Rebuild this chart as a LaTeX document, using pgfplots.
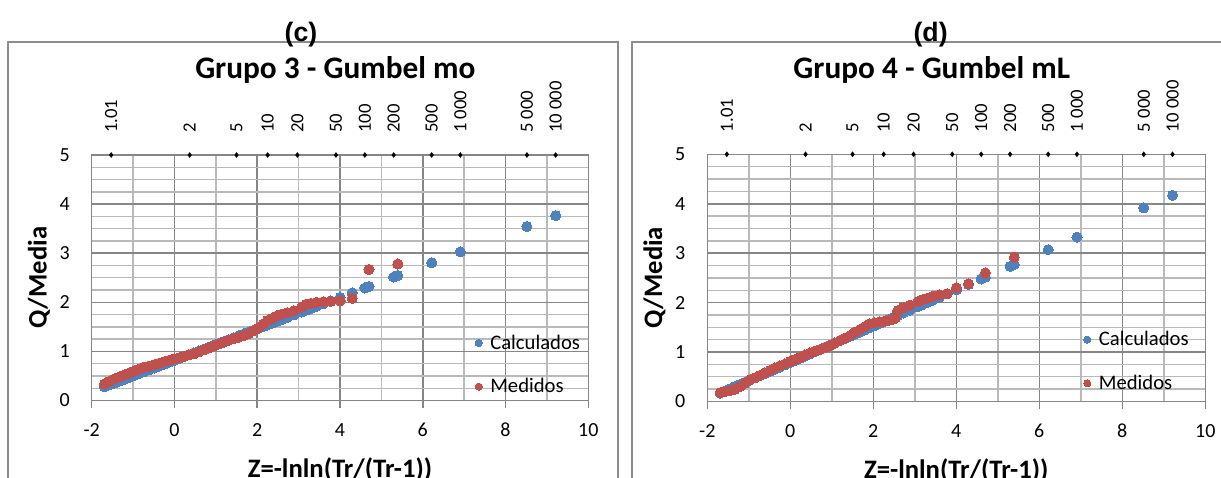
\documentclass[border=0pt]{standalone}
\usepackage{pgfplots}
\pgfplotsset{compat=1.18}
\usepackage{fontspec}
\setmainfont{Carlito}
\newfontfamily\arialf{Liberation Sans}
\definecolor{cblue}{RGB}{79,129,189}
\definecolor{cred}{RGB}{192,80,77}
\definecolor{gmaj}{RGB}{134,134,134}
\definecolor{gmin}{RGB}{185,185,185}
\definecolor{boxc}{RGB}{140,140,140}

\pgfplotstableread{
z v
-1.69 0.279
-1.57 0.318
-1.45 0.356
-1.33 0.394
-1.21 0.433
-1.09 0.471
-0.97 0.510
-0.85 0.548
-0.73 0.586
-0.61 0.625
-0.49 0.663
-0.37 0.702
-0.25 0.740
-0.13 0.778
-0.01 0.817
0.11 0.855
0.23 0.894
0.35 0.932
0.47 0.970
0.59 1.009
0.71 1.047
0.83 1.086
0.95 1.124
1.07 1.162
1.19 1.201
1.31 1.239
1.43 1.278
1.55 1.316
1.67 1.354
1.79 1.393
1.91 1.431
2.03 1.470
2.15 1.508
2.25 1.540
2.355 1.574
2.466 1.609
2.588 1.648
2.727 1.693
2.885 1.743
3.072 1.803
3.180 1.838
3.300 1.876
3.436 1.920
3.593 1.970
3.777 2.029
4.003 2.101
4.293 2.194
4.600 2.292
4.700 2.324
5.296 2.515
5.396 2.547
6.214 2.808
6.907 3.030
8.517 3.545
9.210 3.767
}\calcC

\pgfplotstableread{
z v
-1.69 0.34
-1.57 0.39
-1.45 0.44
-1.33 0.48
-1.21 0.52
-1.09 0.56
-0.97 0.60
-0.85 0.64
-0.73 0.68
-0.61 0.70
-0.49 0.73
-0.37 0.76
-0.25 0.79
-0.13 0.82
-0.01 0.85
0.11 0.87
0.23 0.90
0.35 0.93
0.47 0.95
0.59 0.99
0.71 1.03
0.83 1.07
0.95 1.11
1.07 1.15
1.19 1.19
1.31 1.23
1.43 1.26
1.55 1.29
1.67 1.32
1.79 1.36
1.91 1.42
2.03 1.48
2.15 1.56
2.25 1.63
2.355 1.67
2.466 1.72
2.588 1.76
2.727 1.79
2.885 1.83
3.072 1.90
3.180 1.96
3.300 1.98
3.436 2.00
3.593 2.01
3.777 2.02
4.003 2.03
4.293 2.08
4.700 2.67
5.396 2.78
}\medC

\pgfplotstableread{
z v
-1.69 0.170
-1.57 0.214
-1.45 0.258
-1.33 0.302
-1.21 0.346
-1.09 0.390
-0.97 0.434
-0.85 0.478
-0.73 0.522
-0.61 0.566
-0.49 0.610
-0.37 0.654
-0.25 0.698
-0.13 0.742
-0.01 0.786
0.11 0.830
0.23 0.874
0.35 0.918
0.47 0.962
0.59 1.007
0.71 1.051
0.83 1.095
0.95 1.139
1.07 1.183
1.19 1.227
1.31 1.271
1.43 1.315
1.55 1.359
1.67 1.403
1.79 1.447
1.91 1.491
2.03 1.535
2.15 1.579
2.25 1.616
2.355 1.654
2.466 1.695
2.588 1.740
2.727 1.791
2.885 1.849
3.072 1.917
3.180 1.957
3.300 2.001
3.436 2.051
3.593 2.109
3.777 2.176
4.003 2.259
4.293 2.366
4.600 2.478
4.700 2.515
5.296 2.734
5.396 2.770
6.214 3.071
6.907 3.325
8.517 3.916
9.210 4.170
}\calcD

\pgfplotstableread{
z v
-1.69 0.18
-1.57 0.20
-1.45 0.22
-1.33 0.25
-1.21 0.30
-1.09 0.37
-0.97 0.44
-0.85 0.48
-0.73 0.53
-0.61 0.58
-0.49 0.63
-0.37 0.68
-0.25 0.72
-0.13 0.76
-0.01 0.81
0.11 0.85
0.23 0.89
0.35 0.94
0.47 0.98
0.59 1.02
0.71 1.05
0.83 1.09
0.95 1.13
1.07 1.18
1.19 1.23
1.31 1.28
1.43 1.33
1.55 1.40
1.67 1.45
1.79 1.51
1.91 1.57
2.03 1.59
2.15 1.61
2.25 1.62
2.355 1.64
2.466 1.66
2.53 1.69
2.588 1.84
2.727 1.90
2.885 1.95
3.072 2.02
3.180 2.06
3.300 2.09
3.436 2.13
3.593 2.16
3.777 2.18
4.003 2.30
4.293 2.38
4.700 2.60
5.396 2.92
}\medD

\pgfplotsset{
 gumbel/.style={
  scale only axis, clip=false,
  xmin=-2, xmax=10, ymin=0, ymax=5,
  xtick={-2,0,...,10}, ytick={0,1,...,5},
  minor x tick num=1, minor y tick num=3,
  grid=both,
  major grid style={draw=gmaj, line width=1.15pt},
  minor grid style={draw=gmin, line width=1.05pt},
  axis line style={draw=gmaj, line width=1.15pt},
  tick align=outside, xtick pos=bottom, ytick pos=left,
  major tick length=6pt, minor tick length=0pt,
  xtick style={draw=gmaj, line width=1.15pt},
  ytick style={draw=none},
  /pgf/number format/assume math mode=true,
  tick label style={font=\fontsize{15}{15}\selectfont},
  xticklabel style={anchor=north, inner sep=0pt, yshift=-10.9pt, font=\fontsize{15}{15}\selectfont},
  yticklabel style={anchor=east, inner sep=0pt, xshift=-10.3pt, font=\fontsize{15}{15}\selectfont},
  every axis y label/.style={at={([xshift=-39.6pt]axis description cs:0,0.5)}, rotate=90, anchor=center, font=\bfseries\fontsize{20}{20}\selectfont},
  every axis x label/.style={at={([yshift=-52pt]axis description cs:0.5,0)}, anchor=center, font=\bfseries\fontsize{20}{20}\selectfont},
  ylabel={Q/Media}, xlabel={Z=-lnln(Tr/(Tr-1))},
  legend cell align=left,
  legend style={draw=none, fill=none, inner sep=0pt, row sep=20.5pt, column sep=6pt,
     font=\fontsize{15.5}{15.5}\selectfont, nodes={inner sep=0pt}, anchor=north west},
  legend image code/.code={\draw[#1, mark size=2.7pt] plot coordinates {(0pt,0pt)};},
 },
 dat/.style={only marks, mark=*, mark size=3.8pt, color=#1, fill=#1, mark options={draw=#1, fill=#1, line width=0pt}},
 toplab/.style={forget plot, only marks, mark=diamond*, mark size=1.8pt, black,
   nodes near coords, point meta=explicit symbolic,
   every node near coord/.append style={font=\fontsize{14}{14}\selectfont, yshift=16.5pt, rotate=90, anchor=west, inner sep=0pt, black}},
}

\begin{document}
\begin{tikzpicture}[x=0.75pt,y=0.75pt]
\useasboundingbox (0,0) rectangle (1221,478);
\begin{scope}
\clip (0,0) rectangle (1221,478);
\draw[boxc, line width=1.3pt] (8.3,-20) -- (8.3,436.3) -- (618.3,436.3) -- (618.3,-20);
\draw[boxc, line width=1.3pt] (632,-20) -- (632,436.3) -- (1260,436.3) -- (1260,-20);
\end{scope}
\node[anchor=base, font=\arialf\bfseries\fontsize{20}{20}\selectfont] at (301,436.6) {(c)};
\node[anchor=base, font=\arialf\bfseries\fontsize{20}{20}\selectfont] at (930.6,436.6) {(d)};

\begin{axis}[gumbel, at={(68.775pt,58.125pt)}, anchor=south west, width=372.45pt, height=184.125pt,
  title={Grupo 3 - Gumbel mo},
  title style={at={([yshift=51pt]axis description cs:0.4907,1)}, anchor=south, inner sep=0pt, text depth=0pt, font=\bfseries\fontsize{23.5}{23.5}\selectfont},
  legend style={at={(axis description cs:0.7715,0.2686)}}]
\addplot[dat=cblue] table {\calcC};
\addlegendentry{Calculados}
\addplot[dat=cred] table {\medC};
\addlegendentry{Medidos}
\addplot[toplab] coordinates {(-1.529,5) [1.01] (0.367,5) [2] (1.500,5) [5] (2.250,5) [10] (2.970,5) [20] (3.902,5) [50] (4.600,5) [100] (5.296,5) [200] (6.214,5) [500] (6.907,5) [1 000] (8.517,5) [5 000] (9.210,5) [10 000]};
\end{axis}

\begin{axis}[gumbel, at={(530.475pt,57.375pt)}, anchor=south west, width=373.5pt, height=185.4pt,
  title={Grupo 4 - Gumbel mL},
  title style={at={([yshift=50.5pt]axis description cs:0.4508,1)}, anchor=south, inner sep=0pt, text depth=0pt, font=\bfseries\fontsize{23.5}{23.5}\selectfont},
  legend style={at={(axis description cs:0.7553,0.2845)}}]
\addplot[dat=cblue] table {\calcD};
\addlegendentry{Calculados}
\addplot[dat=cred] table {\medD};
\addlegendentry{Medidos}
\addplot[toplab] coordinates {(-1.529,5) [1.01] (0.367,5) [2] (1.500,5) [5] (2.250,5) [10] (2.970,5) [20] (3.902,5) [50] (4.600,5) [100] (5.296,5) [200] (6.214,5) [500] (6.907,5) [1 000] (8.517,5) [5 000] (9.210,5) [10 000]};
\end{axis}
\end{tikzpicture}
\end{document}
